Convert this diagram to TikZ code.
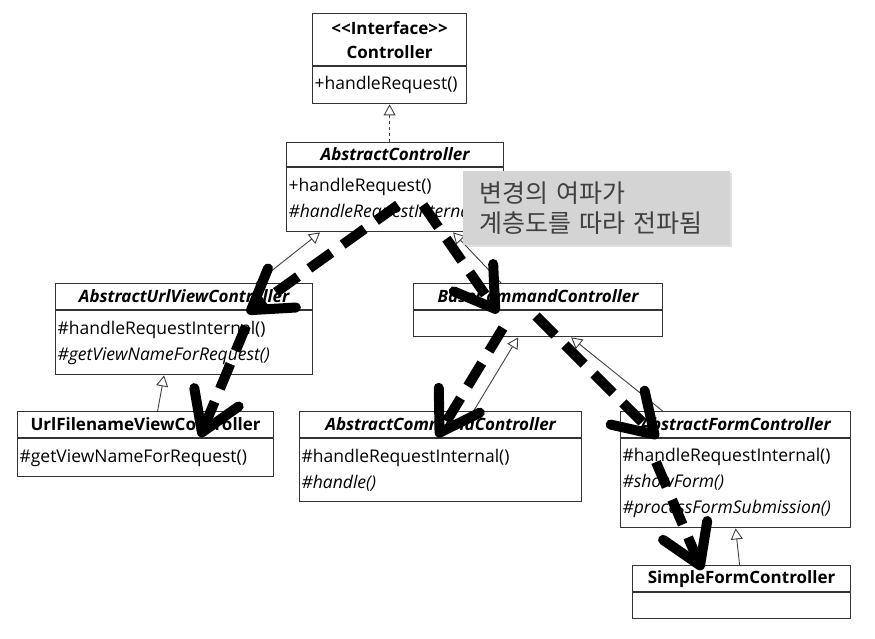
\documentclass[tikz,border=0pt]{standalone}
\usepackage{fontspec}
\setmainfont{Open Sans}
\newfontfamily\krfont{Noto Sans CJK KR}
\usepackage{tikz}
\usetikzlibrary{positioning,calc}
\usetikzlibrary{arrows.meta,shadows}
\tikzstyle{head} = [rectangle,draw=black!80,line width=1.2pt,anchor=north west,inner sep=0pt,align=center,font=\fontsize{17}{24}\selectfont\bfseries]
\tikzstyle{body} = [rectangle,draw=black!80,line width=1.2pt,anchor=north west,inner xsep=2pt,inner ysep=1pt,align=left,font=\fontsize{17.5}{26}\selectfont]
\tikzstyle{inherit} = [draw=black!75,line width=0.9pt,-{Triangle[open,length=11pt,width=12pt]}]
\tikzstyle{spread} = [line width=10pt,dash pattern=on 27pt off 14pt,-{Straight Barb[length=38pt,width=48pt,round]}]
\tikzstyle{note} = [rectangle,fill=black!17,text=black!75,anchor=north west,inner xsep=16pt,align=left,font=\krfont\fontsize{25}{30}\selectfont,drop shadow={shadow xshift=2pt,shadow yshift=-2pt,opacity=0.25}]

\begin{document}
\begin{tikzpicture}[x=1pt,y=-1pt]
        \useasboundingbox (0,0) rectangle (875,639);
        % class boxes
        \node[head,minimum width=154pt,minimum height=52pt] (ctrlh) at (312,13) {<{}<Interface>{}>\\Controller};
        \node[body,text width=150pt,minimum height=37pt] (ctrlb) at (ctrlh.south west) {+handleRequest()};
        \node[head,minimum width=217pt,minimum height=24pt] (acth) at (286,142) {\itshape AbstractController};
        \node[body,text width=213pt,minimum height=64pt] (actb) at (acth.south west) {+handleRequest()\\\textit{\#handleRequestInternal()}};
        \node[head,minimum width=257pt,minimum height=26pt] (auvh) at (55,283) {\itshape AbstractUrlViewController};
        \node[body,text width=253pt,minimum height=64pt] (auvb) at (auvh.south west) {\#handleRequestInternal()\\\textit{\#getViewNameForRequest()}};
        \node[head,minimum width=256pt,minimum height=26pt] (ufvh) at (17,411) {UrlFilenameViewController};
        \node[body,text width=252pt,minimum height=38pt] (ufvb) at (ufvh.south west) {\#getViewNameForRequest()};
        \node[head,minimum width=249pt,minimum height=26pt] (bcch) at (413,283) {\itshape BaseCommandController};
        \node[body,text width=245pt,minimum height=26pt] (bccb) at (bcch.south west) {};
        \node[head,minimum width=282pt,minimum height=26pt] (acch) at (299,411) {\itshape AbstractCommandController};
        \node[body,text width=278pt,minimum height=63pt] (accb) at (acch.south west) {\#handleRequestInternal()\\\textit{\#handle()}};
        \node[head,minimum width=230pt,minimum height=26pt] (afch) at (620,411) {\itshape AbstractFormController};
        \node[body,text width=226pt,minimum height=89pt] (afcb) at (afch.south west) {\#handleRequestInternal()\\\textit{\#showForm()}\\\textit{\#processFormSubmission()}};
        \node[head,minimum width=218pt,minimum height=26pt] (sfch) at (632,565) {SimpleFormController};
        \node[body,text width=214pt,minimum height=26pt] (sfcb) at (sfch.south west) {};
        % inheritance
        \draw[inherit,dashed] (ctrlb.south |- acth.north) -- (ctrlb.south);
        \draw[inherit] ($(auvh.north)+(72,0)$) -- ($(actb.south)+(-75,0)$);
        \draw[inherit] ($(ufvh.north)+(12,0)$) -- ($(auvb.south)+(-20,0)$);
        \draw[inherit] ($(bcch.north)+(-37,0)$) -- ($(actb.south)+(58,0)$);
        \draw[inherit] ($(acch.north)+(33,0)$) -- ($(bccb.south)+(-20,0)$);
        \draw[inherit] ($(afch.north)+(-73,0)$) -- ($(bccb.south)+(33,0)$);
        \draw[inherit] ($(sfch.north)+(-2,0)$) -- ($(afcb.south)+(0,0)$);
        % propagation of a change
        \coordinate (s1) at (398,205);
        \coordinate (t1) at (247,313);
        \coordinate (s2) at (246,326);
        \coordinate (t2) at (200,437);
        \coordinate (s3) at (423,205);
        \coordinate (t3) at (498,313);
        \coordinate (s4) at (503,328);
        \coordinate (t4) at (437,437);
        \coordinate (s5) at (536,316);
        \coordinate (t5) at (658,438);
        \coordinate (s6) at (656,462);
        \coordinate (t6) at (702,570);
        \foreach \i in {1,...,6}
            \draw[spread] (s\i) -- (t\i);
        % note
        \node[note,minimum width=267pt,minimum height=74pt,text width=235pt] (msg) at (463,171) {변경의 여파가\\계층도를 따라 전파됨};
    \end{tikzpicture}
\end{document}
